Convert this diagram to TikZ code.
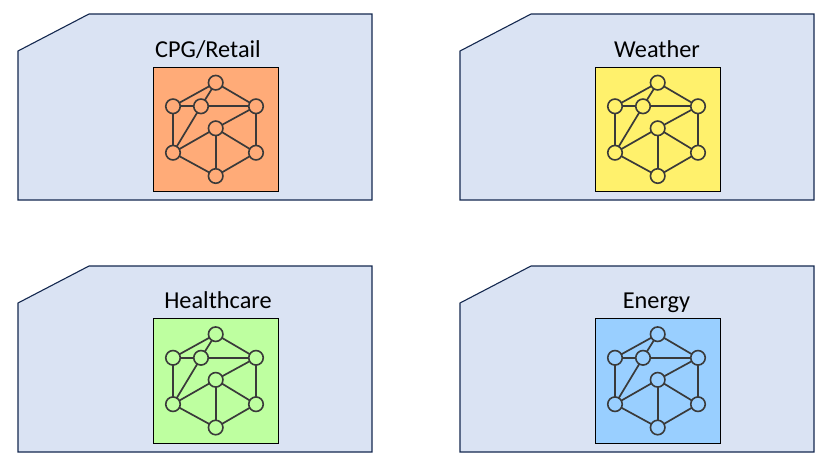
\documentclass[tikz,border=0pt]{standalone}
\usepackage{fontspec}
\setmainfont{Carlito}
\definecolor{panelfill}{HTML}{DAE3F3}
\definecolor{paneledge}{HTML}{14284F}
\definecolor{cOrange}{HTML}{FFAB78}
\definecolor{cYellow}{HTML}{FFF16C}
\definecolor{cGreen}{HTML}{BEFFA0}
\definecolor{cBlue}{HTML}{99CFFF}
\definecolor{netline}{HTML}{3A3A3A}
\tikzset{
  x=1pt,y=-1pt,
  panel/.style={draw=paneledge,fill=panelfill,line width=1.1pt,line join=miter},
  tile/.style={draw=black,line width=0.9pt,minimum width=125pt,minimum height=124.5pt,inner sep=0pt,outer sep=0pt,anchor=north west},
  vertex/.style={circle,draw=netline,line width=1.6pt,minimum size=14.5pt,inner sep=0pt,outer sep=0pt},
  link/.style={draw=netline,line width=1.7pt},
  title/.style={font=\fontsize{24.3}{28}\selectfont,text=black,inner sep=0pt,anchor=base},
  pics/network/.style={code={
    \node[tile,fill=#1] (-t) at (0,0) {};
    \node[vertex,fill=#1] (-a) at (62.7,15.7) {};
    \node[vertex,fill=#1] (-b) at (20,39.3) {};
    \node[vertex,fill=#1] (-c) at (48,39.3) {};
    \node[vertex,fill=#1] (-d) at (103,39.3) {};
    \node[vertex,fill=#1] (-e) at (62.7,61.3) {};
    \node[vertex,fill=#1] (-f) at (20,85.7) {};
    \node[vertex,fill=#1] (-g) at (103,85.7) {};
    \node[vertex,fill=#1] (-h) at (62.7,109) {};
    \foreach \p/\q in {a/b,a/c,a/d,b/c,c/d,b/f,c/f,e/d,e/f,e/g,e/h,f/h,g/h,d/g}
      \draw[link] (-\p) -- (-\q);
  }}
}
\begin{document}
\begin{tikzpicture}
\useasboundingbox (0,0) rectangle (829,461);
\path[panel] (18,51) -- (89,14) -- (372,14) -- (372,200) -- (18,200) -- cycle;
\path[panel] (460,51) -- (531,14) -- (814,14) -- (814,200) -- (460,200) -- cycle;
\path[panel] (18,303) -- (89,266) -- (372,266) -- (372,452) -- (18,452) -- cycle;
\path[panel] (460,303) -- (531,266) -- (814,266) -- (814,452) -- (460,452) -- cycle;
\pic (n1) at (153,67) {network=cOrange};
\pic (n2) at (595,67) {network=cYellow};
\pic (n3) at (153,318.5) {network=cGreen};
\pic (n4) at (595,318.5) {network=cBlue};
\node[title] (l1) at (208,57) {CPG/Retail};
\node[title] (l2) at (657,57) {Weather};
\node[title] (l3) at (218,308) {Healthcare};
\node[title] (l4) at (656.5,308) {Energy};
\end{tikzpicture}
\end{document}
